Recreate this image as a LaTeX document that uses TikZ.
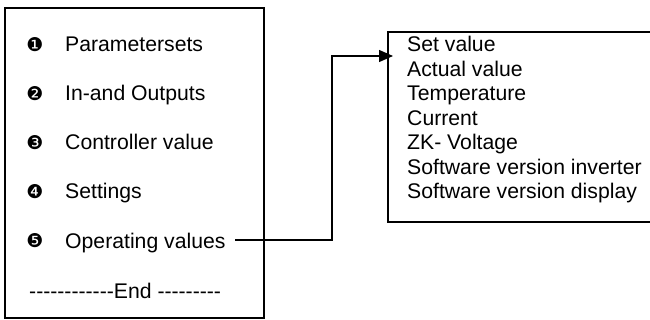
\documentclass[tikz,border=0pt]{standalone}
\usepackage{fontspec}
\newfontfamily\menufont{Liberation Sans}
\newfontfamily\dingfont{DejaVu Sans}
\usetikzlibrary{arrows.meta,positioning}

\begin{document}
\begin{tikzpicture}[>=Stealth,line cap=butt,line join=miter,
 x=1pt,y=-1pt,
 menutext/.style={font=\menufont\fontsize{21.2}{24.5}\selectfont,inner sep=0pt,anchor=base west},
 menunum/.style={font=\dingfont\fontsize{19}{19}\selectfont,inner sep=0pt},
 frame/.style={line width=1.3pt},
 conn/.style={line width=1.3pt,-{Triangle[length=14pt,width=12pt]}}]
 \clip (0,0) rectangle (650,320);
 \useasboundingbox (0,0) rectangle (650,320);
 % menu box
 \draw[frame] (5,8) rectangle (264,318);
 \foreach \n/\txt [count=\i] in {{❶}/Parametersets,{❷}/In-and Outputs,
  {❸}/Controller value,{❹}/Settings,{❺}/Operating values}
 {
  \node[menunum] (num\i) at (35,{45+49*(\i-1)}) {\n};
  \node[menutext] (item\i) at (65,{52+49*(\i-1)}) {\txt};
 }
 \node[menutext] (menuend) at (29,298) {------------End ---------};
 % value box
 \draw[frame] (388,32) rectangle (660,222);
 \foreach \txt [count=\i] in {Set value,Actual value,Temperature,Current,
  ZK- Voltage,Software version inverter,Software version display}
  \node[menutext] (val\i) at (407,{52+24.5*(\i-1)}) {\txt};
 % connector
 \coordinate (opout) at (235,240);
 \coordinate (bend) at (332,56);
 \coordinate (valsin) at (393,56);
 \draw[conn] (opout) -| (bend) -- (valsin);
\end{tikzpicture}
\end{document}
